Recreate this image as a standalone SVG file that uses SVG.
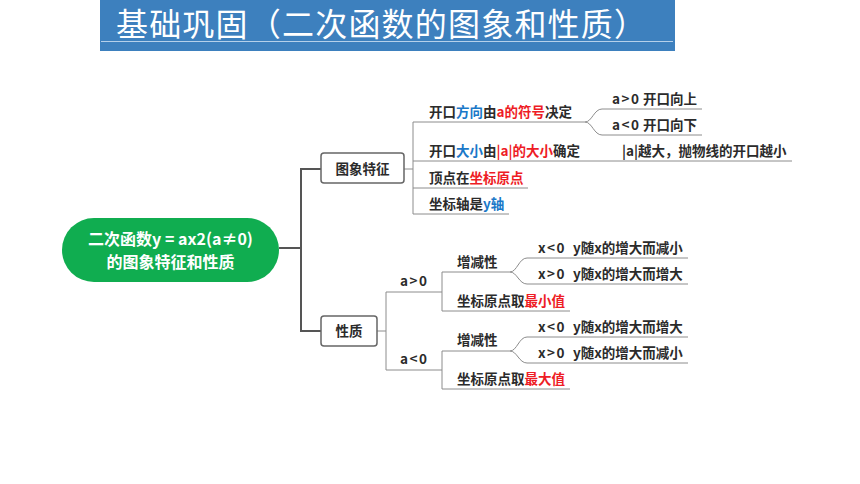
<svg xmlns="http://www.w3.org/2000/svg" width="860" height="484" viewBox="0 0 860 484">
<style>
text{font-family:"Noto Sans CJK SC","Noto Sans",sans-serif}
.t{font-size:13.5px;font-weight:bold;fill:#2b2b2b}
.r{fill:#ee1c25}
.b{fill:#1a78c8}
.s{letter-spacing:1.5px}
.ln{fill:none;stroke:#8c8c8c;stroke-width:1}
.main{fill:none;stroke:#555;stroke-width:2}
.box{fill:#fff;stroke:#666;stroke-width:1.5}
</style>
<rect width="860" height="484" fill="#fff"/>
<g id="title">
<rect x="100" y="0" width="575" height="51" fill="#3d80be"/>
<line x1="101" y1="41.5" x2="673" y2="41.5" stroke="#b5d0ea" stroke-width="1"/>
<text x="116" y="36" font-size="32" fill="#fff" letter-spacing="1.2">基础巩固（二次函数的图象和性质）</text>
</g>
<g id="connectors">
<path class="main" d="M279,248H301M301,169V331M300,169H321M300,331H321"/>
<path class="ln" d="M404,169H413M413,122V214M413,122H585C592,122 594,109 602,109H702M585,122C592,122 594,135 602,135H702M413,161H792M413,188H528M413,214H509"/>
<path class="ln" d="M377,331H386M386,292V370M386,292H442M386,370H442M442,272V311M442,272H510C517,272 519,258 527,258H688M510,272C517,272 519,284 527,284H688M442,311H570M442,351V389M442,351H510C517,351 519,337 527,337H688M510,351C517,351 519,363 527,363H688M442,389H570"/>
</g>
<g id="root">
<rect x="62" y="218" width="217" height="64" rx="32" fill="#10ad50"/>
<text x="170.5" y="245" font-size="16" font-weight="bold" fill="#fff" text-anchor="middle">二次函数y = ax2(a≠0)</text>
<text x="170.5" y="268" font-size="16" font-weight="bold" fill="#fff" text-anchor="middle">的图象特征和性质</text>
</g>
<g id="n-image">
<rect class="box" x="321" y="153" width="83" height="30" rx="3"/>
<text class="t" x="362.5" y="174" text-anchor="middle">图象特征</text>
</g>
<g id="n-prop">
<rect class="box" x="321" y="316" width="56" height="30" rx="3"/>
<text class="t" x="349" y="336" text-anchor="middle">性质</text>
</g>
<g id="n-dir">
<text class="t" x="429" y="117">开口<tspan class="b">方向</tspan>由<tspan class="r">a的符号</tspan>决定</text>
</g>
<g id="n-up"><text class="t" x="612" y="104"><tspan class="s">a&gt;0</tspan><tspan x="643">开口向上</tspan></text></g>
<g id="n-down"><text class="t" x="612" y="130"><tspan class="s">a&lt;0</tspan><tspan x="643">开口向下</tspan></text></g>
<g id="n-size">
<text class="t" x="429" y="156">开口<tspan class="b">大小</tspan>由<tspan class="r">|a|的大小</tspan>确定</text>
</g>
<g id="n-size2"><text class="t" x="622" y="156">|a|越大，抛物线的开口越小</text></g>
<g id="n-vertex"><text class="t" x="429" y="183">顶点在<tspan class="r">坐标原点</tspan></text></g>
<g id="n-axis"><text class="t" x="429" y="209">坐标轴是<tspan class="b">y轴</tspan></text></g>
<g id="n-apos"><text class="t s" x="400" y="286">a&gt;0</text></g>
<g id="n-aneg"><text class="t s" x="400" y="364">a&lt;0</text></g>
<g id="n-mono1"><text class="t" x="457" y="267">增减性</text></g>
<g id="n-m1a"><text class="t" x="538" y="253"><tspan class="s">x&lt;0</tspan><tspan x="573">y随x的增大而减小</tspan></text></g>
<g id="n-m1b"><text class="t" x="538" y="279"><tspan class="s">x&gt;0</tspan><tspan x="573">y随x的增大而增大</tspan></text></g>
<g id="n-min"><text class="t" x="457" y="306">坐标原点取<tspan class="r">最小值</tspan></text></g>
<g id="n-mono2"><text class="t" x="457" y="345">增减性</text></g>
<g id="n-m2a"><text class="t" x="538" y="332"><tspan class="s">x&lt;0</tspan><tspan x="573">y随x的增大而增大</tspan></text></g>
<g id="n-m2b"><text class="t" x="538" y="358"><tspan class="s">x&gt;0</tspan><tspan x="573">y随x的增大而减小</tspan></text></g>
<g id="n-max"><text class="t" x="457" y="384">坐标原点取<tspan class="r">最大值</tspan></text></g>
</svg>
